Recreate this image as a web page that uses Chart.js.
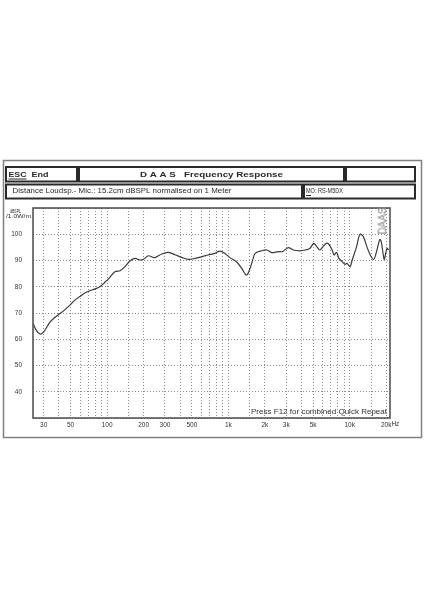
<!DOCTYPE html>
<html>
<head>
<meta charset="utf-8">
<title>DAAS Frequency Response</title>
<script src="https://cdn.jsdelivr.net/npm/chart.js@4.4.0/dist/chart.umd.min.js"></script>
<style>
  html, body { margin: 0; padding: 0; background: #fff; }
  canvas { display: block; }
</style>
</head>
<body>
<canvas id="chart" width="424" height="600"></canvas>
<script>
// curve: frequency (Hz) and level (dBSPL)
const freqs = [24.6, 26, 28, 30, 33.8, 37, 40.9, 45, 49.4, 54, 59.7, 65, 72, 80, 87, 95,
  105, 116, 128, 140, 154, 170, 187, 200, 219, 248, 282, 320, 363, 412, 467, 530, 600,
  681, 773, 851, 936, 1029, 1167, 1287, 1396, 1450, 1557, 1660, 1888, 2073, 2277, 2580,
  2800, 3118, 3430, 3890, 4300, 4690, 5060, 5350, 5670, 6240, 6640, 7170, 7450, 7800,
  8150, 8700, 9150, 9500, 10080, 10500, 11400, 12150, 12960, 13850, 14770, 15750,
  16500, 17700, 18200, 18930, 19300, 20280, 20970];
const spl = [66.0, 63.5, 62.0, 62.8, 66.5, 68.3, 69.8, 71.3, 73.0, 74.8, 76.3, 77.5, 78.5, 79.2, 80.0, 81.5,
  83.5, 85.7, 86.1, 87.6, 89.8, 90.8, 90.2, 90.5, 91.8, 91.1, 92.5, 93.1, 92.2, 91.2, 90.4, 90.8, 91.4,
  92.1, 92.7, 93.6, 92.7, 91.1, 89.5, 87.0, 84.5, 85.0, 88.9, 92.7, 93.7, 94.0, 93.0, 93.4,
  93.4, 94.9, 94.0, 93.7, 94.0, 94.6, 96.5, 95.3, 94.0, 96.1, 96.5, 94.0, 92.1, 93.1,
  90.8, 89.5, 88.5, 88.9, 87.6, 90.2, 95.3, 100.0, 99.1, 95.3, 92.1, 90.4,
  92.7, 98.0, 97.2, 92.1, 90.4, 94.6, 94.0];

// dotted vertical grid and which of those lines carry a label
const gridFreqs = [30, 40, 50, 60, 70, 80, 90, 100, 150, 200, 300, 400, 500, 600, 700, 800, 900,
  1000, 1500, 2000, 3000, 4000, 5000, 6000, 7000, 8000, 9000, 10000, 15000, 20000];
const labelFreqs = [30, 50, 100, 200, 300, 500, 1000, 2000, 3000, 5000, 10000, 20000];
const labelTexts = ['30', '50', '100', '200', '300', '500', '1k', '2k', '3k', '5k', '10k', '20k'];
const splLabels = [40, 50, 60, 70, 80, 90, 100];

const FONT = '"Liberation Sans", Arial, sans-serif';
const INK = '#2a2a2a';

// draw text stretched/squeezed to a given width (the original is a bitmap DOS font)
function fitText(c, text, x, y, width, font) {
    c.font = font;
    const w = c.measureText(text).width;
    c.save();
    c.translate(x, y);
    c.scale(width / w, 1);
    c.fillText(text, 0, 0);
    c.restore();
}

const daasFrame = {
    id: 'daasFrame',
    beforeDraw(chart) {
        const c = chart.ctx;
        c.save();
        c.fillStyle = '#fff';
        c.fillRect(0, 0, chart.width, chart.height);
        c.restore();
    },
    afterDraw(chart) {
        const c = chart.ctx;
        const a = chart.chartArea;
        c.save();

        // outer window frame
        c.strokeStyle = '#808080';
        c.lineWidth = 1.5;
        c.strokeRect(3.5, 160.5, 418, 277);

        // header boxes
        c.strokeStyle = INK;
        c.lineWidth = 2;
        c.strokeRect(6, 167, 71, 14.5);
        c.strokeRect(79, 167, 265, 14.5);
        c.strokeRect(346, 167, 69, 14.5);
        c.strokeRect(6, 184.5, 296, 14);
        c.strokeRect(304, 184.5, 111, 14);

        c.fillStyle = INK;
        c.textBaseline = 'middle';
        c.textAlign = 'left';
        fitText(c, 'ESC', 8.5, 174.5, 18, 'bold 8px ' + FONT);
        fitText(c, 'End', 31.5, 174.5, 17, 'bold 8px ' + FONT);
        fitText(c, 'D A A S   Frequency Response', 140, 174.5, 143, 'bold 8px ' + FONT);
        fitText(c, 'Distance Loudsp.- Mic.: 15.2cm dBSPL normalised on 1 Meter', 12.5, 191.5, 219, '7px ' + FONT);
        fitText(c, 'MO: RS-M5DX', 306, 191.5, 37, '7px ' + FONT);
        c.lineWidth = 1;
        c.beginPath();
        c.moveTo(8.5, 179); c.lineTo(26.5, 179);
        c.moveTo(306, 195.5); c.lineTo(311, 195.5);
        c.stroke();

        // axis caption
        fitText(c, 'dBSPL', 10, 211, 11, '6px ' + FONT);
        fitText(c, '/1.0W/m', 6, 216.5, 25, '6px ' + FONT);

        // plot border
        c.strokeStyle = '#4a4a4a';
        c.lineWidth = 1.5;
        c.strokeRect(a.left, a.top, a.right - a.left, a.bottom - a.top);

        // vertical DAAS watermark
        c.save();
        c.translate(383, 221);
        c.rotate(-Math.PI / 2);
        c.textAlign = 'center';
        c.font = '10px ' + FONT;
        c.strokeStyle = '#9a9a9a';
        c.lineWidth = 0.6;
        c.strokeText('DAAS', 0, 0);
        c.restore();

        // footer note inside the plot
        c.fillStyle = '#333';
        fitText(c, 'Press F12 for combined Quick Repeat', 251, 412.5, 136, '7px ' + FONT);

        // "Hz" after the last frequency label
        const xs = chart.scales.x;
        c.font = '6.5px ' + FONT;
        const px = xs.getPixelForValue(20000) + c.measureText('20k').width / 2;
        c.textBaseline = 'top';
        c.fillText('Hz', px, xs.top + 3);
        c.restore();
    }
};

new Chart(document.getElementById('chart').getContext('2d'), {
    type: 'line',
    data: {
        datasets: [{
            data: freqs.map((f, i) => ({ x: f, y: spl[i] })),
            borderColor: '#3a3a3a',
            borderWidth: 1.2,
            pointRadius: 0,
            tension: 0.3,
            fill: false
        }]
    },
    options: {
        responsive: false,
        animation: false,
        events: [],
        layout: { padding: { top: 208, right: 34, left: 0, bottom: 0 } },
        plugins: { legend: { display: false }, tooltip: { enabled: false } },
        scales: {
            x: {
                type: 'logarithmic',
                min: 24.5,
                max: 21500,
                afterFit: s => { s.height = 182; },
                afterBuildTicks: s => { s.ticks = gridFreqs.map(v => ({ value: v })); },
                grid: { color: '#8e8e8e', lineWidth: 1, drawTicks: false },
                border: { display: false, dash: [1, 2] },
                ticks: {
                    autoSkip: false,
                    maxRotation: 0,
                    minRotation: 0,
                    padding: 3,
                    color: '#333',
                    font: { family: FONT, size: 6.5 },
                    callback: v => {
                        const i = labelFreqs.indexOf(v);
                        return i >= 0 ? labelTexts[i] : '';
                    }
                }
            },
            y: {
                min: 30,
                max: 110,
                afterFit: s => { s.width = 33; },
                grid: { color: '#8e8e8e', lineWidth: 1, drawTicks: false },
                border: { display: false, dash: [1, 2] },
                ticks: {
                    stepSize: 10,
                    padding: 11,
                    color: '#333',
                    font: { family: FONT, size: 6.5 },
                    callback: v => splLabels.includes(v) ? String(v) : ''
                }
            }
        }
    },
    plugins: [daasFrame]
});
</script>
</body>
</html>
